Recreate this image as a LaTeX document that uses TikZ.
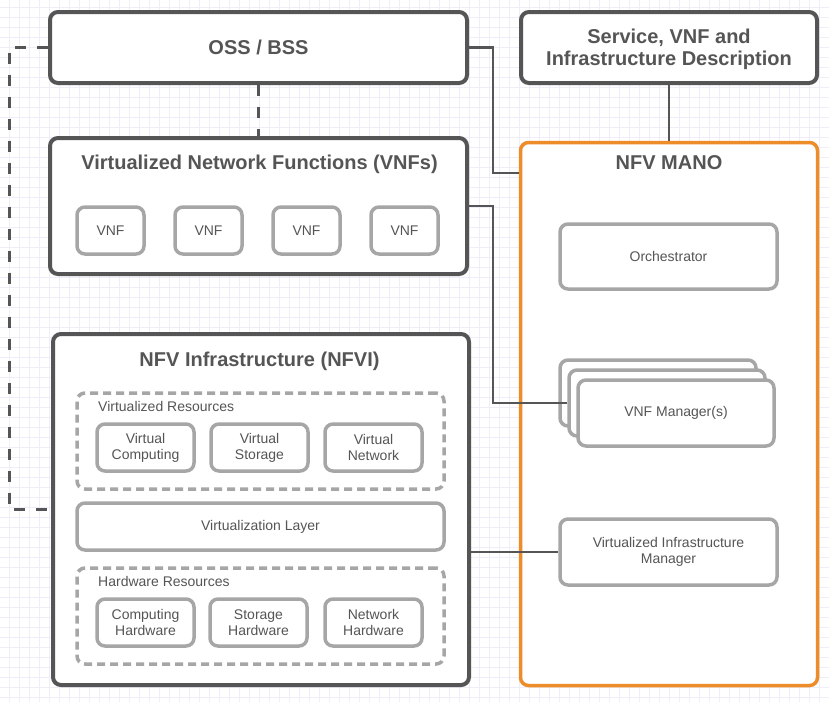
\documentclass[tikz,border=0pt]{standalone}
\usepackage{fontspec}
\setmainfont{Liberation Sans}
\definecolor{dk}{HTML}{555555}
\definecolor{lg}{HTML}{A6A6A6}
\definecolor{org}{HTML}{EC8D2A}
\definecolor{gridc}{HTML}{EEEDF8}
\definecolor{txt}{HTML}{555555}
\tikzset{
  bigbox/.style={draw=dk, line width=4pt, rounded corners=8pt, fill=white, text=txt, font=\fontsize{20}{22}\selectfont\bfseries, align=center, inner sep=0pt},
  manobox/.style={draw=org, line width=3.5pt, rounded corners=8pt, fill=white, inner sep=0pt},
  smallbox/.style={draw=lg, line width=3.5pt, rounded corners=8pt, fill=white, text=txt, font=\fontsize{14}{16}\selectfont, align=center, inner sep=0pt},
  dashbox/.style={draw=lg, line width=3.5pt, rounded corners=8pt, dash pattern=on 8pt off 5pt, inner sep=0pt},
  titletext/.style={text=txt, font=\fontsize{20}{22}\selectfont\bfseries, inner sep=0pt},
  labeltext/.style={text=txt, font=\fontsize{14}{16}\selectfont, inner sep=0pt, anchor=west},
  solidconn/.style={draw=dk, line width=2.5pt},
  dashconn/.style={draw=dk, line width=3pt, dash pattern=on 11pt off 11pt},
}
\begin{document}
\begin{tikzpicture}[x=1pt,y=-1pt]
\useasboundingbox (0,0) rectangle (829,702);
\fill[white] (0,0) rectangle (829,702);
\foreach \i in {0,10,...,820} \draw[gridc, line width=1pt] (\i+9,0) -- (\i+9,702);
\foreach \j in {0,10,...,700} \draw[gridc, line width=1pt] (0,\j+7) -- (829,\j+7);

% top boxes
\node[bigbox, minimum width=417pt, minimum height=71pt] (oss) at (258.5,47.5) {OSS / BSS};
\node[bigbox, minimum width=296pt, minimum height=71pt] (svc) at (669,47.5) {};
\node[titletext, align=center] (svct) at (669,49) {Service, VNF and\\Infrastructure Description};

% VNFs
\node[bigbox, minimum width=417pt, minimum height=136pt] (vnfs) at (258.5,206) {};
\node[titletext] (vnft) at (259.5,164) {Virtualized Network Functions (VNFs)};
\foreach \x/\n in {110.5/1,208.5/2,306.5/3,404.5/4}
  \node[smallbox, minimum width=67pt, minimum height=47pt] (vnf\n) at (\x,230.5) {VNF};

% NFVI
\node[bigbox, minimum width=416pt, minimum height=351pt] (nfvi) at (261,509.5) {};
\node[titletext] (nfvit) at (259.5,361) {NFV Infrastructure (NFVI)};
\node[dashbox, minimum width=367pt, minimum height=96pt] (vres) at (260.5,441) {};
\node[labeltext] (vrest) at (98,406) {Virtualized Resources};
\node[smallbox, minimum width=97pt, minimum height=47pt] (vc) at (145.5,447.5) {Virtual\\Computing};
\node[smallbox, minimum width=97pt, minimum height=47pt] (vs) at (259.5,447.5) {Virtual\\Storage};
\node[smallbox, minimum width=97pt, minimum height=47pt] (vn) at (373.5,447.5) {Virtual\\Network};
\node[smallbox, minimum width=367pt, minimum height=47pt] (vl) at (260.5,526.5) {Virtualization Layer};
\node[dashbox, minimum width=367pt, minimum height=96pt] (hres) at (260.5,616) {};
\node[labeltext] (hrest) at (98,581) {Hardware Resources};
\node[smallbox, minimum width=97pt, minimum height=47pt] (ch) at (145.5,622.5) {Computing\\Hardware};
\node[smallbox, minimum width=97pt, minimum height=47pt] (sh) at (258.5,622.5) {Storage\\Hardware};
\node[smallbox, minimum width=97pt, minimum height=47pt] (nh) at (373.5,622.5) {Network\\Hardware};

% MANO
\node[manobox, minimum width=297pt, minimum height=543pt] (mano) at (669,414) {};
\node[titletext] (manot) at (669,163) {NFV MANO};
\node[smallbox, minimum width=217pt, minimum height=65pt] (orch) at (668.5,256.5) {Orchestrator};
\node[smallbox, minimum width=196pt, minimum height=66pt] (vnfmA) at (658,393) {};
\node[smallbox, minimum width=196pt, minimum height=66pt] (vnfmB) at (667,403) {};
\node[smallbox, minimum width=196pt, minimum height=66pt] (vnfmC) at (676,413) {VNF Manager(s)};
\node[smallbox, minimum width=217pt, minimum height=66pt] (vim) at (668.5,552) {Virtualized Infrastructure\\Manager};

% connectors
\coordinate (lb) at (9,47.5);
\coordinate (ja) at (493,47.5);
\coordinate (y173) at (0,173);
\coordinate (jb) at (493,206);
\draw[dashconn] (oss.west) -- (lb) |- (nfvi.west);
\draw[dashconn] (oss.south) -- (vnfs.north);
\draw[solidconn] (oss.east) -- (ja) |- (mano.west |- y173);
\draw[solidconn] (svc.south) -- (mano.north);
\draw[solidconn] (vnfs.east |- jb) -- (jb) |- (vnfmB.west);
\draw[solidconn] (nfvi.east |- vim.west) -- (vim.west);
\end{tikzpicture}
\end{document}
